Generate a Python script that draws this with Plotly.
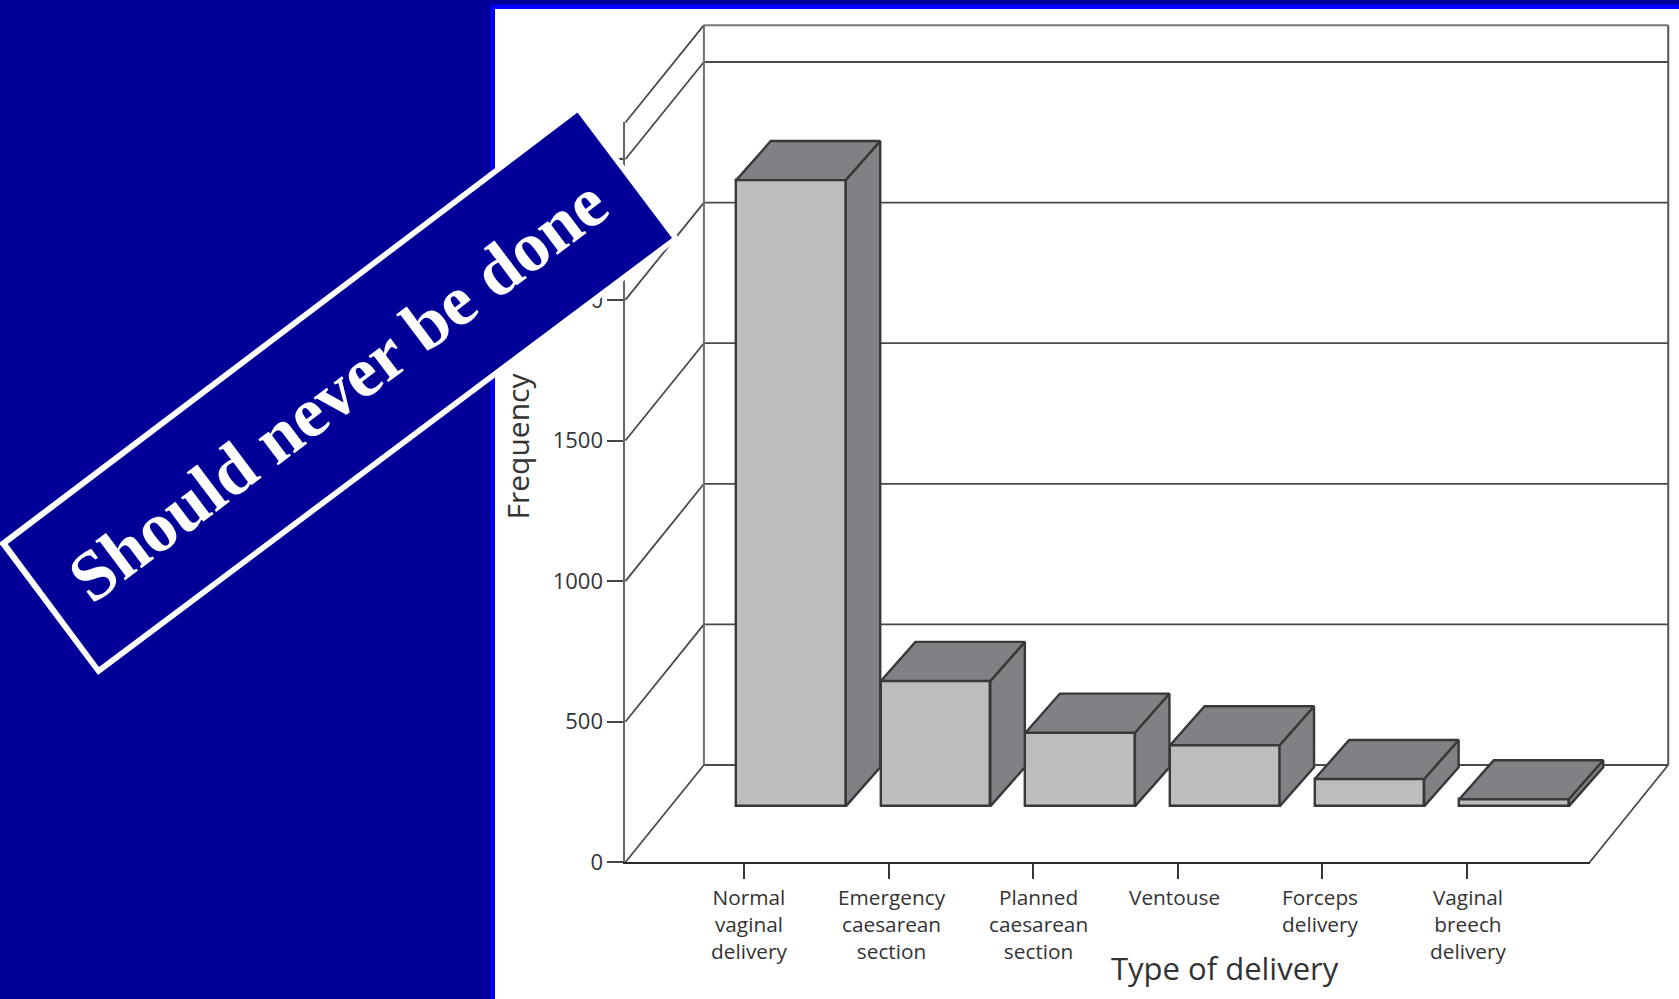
import plotly.graph_objects as go

# Delivery counts by type
categories = ["Normal<br>vaginal<br>delivery", "Emergency<br>caesarean<br>section",
              "Planned<br>caesarean<br>section", "Ventouse",
              "Forceps<br>delivery", "Vaginal<br>breech<br>delivery"]
frequency = [2227, 446, 262, 217, 97, 25]
freq_ticks = [0, 500, 1000, 1500, 2000, 2500]
label_nudge = [5, 3, 5, -3, -2, 1]

WIDTH, HEIGHT = 1679, 999
FONT = "Open Sans"
INK = "#333333"

# Page-to-data scale: one category step and the frequency scale in pixels
STEP_PX = 144.6
UNIT_PX = 0.2812
X0_PX, Y0_PX = 744.0, 862.3
AXIS_LEFT_PX, AXIS_RIGHT_PX = 625.4, 1589.7
WALL_TOP = 2631

# Perspective offsets of the chart box and of each bar (x in category steps, y in frequency)
BOX_DX, BOX_DY = 0.543, 346
BAR_DX, BAR_DY = 0.2386, 139
BAR_BASE = 199
BAR_SHIFT = 0.325
BAR_WIDTH = 0.757

NAVY = "#000099"
BLUE = "#0000FF"
FRONT = "#BCBDBF"
SHADE = "#808184"
EDGE = "#383838"


def px(x):
    return x / WIDTH


def py(y):
    return 1 - y / HEIGHT


def dx(x_px):
    return (x_px - X0_PX) / STEP_PX


def polygon(points):
    return "M " + " L ".join(f"{px(x):.5f} {py(y):.5f}" for x, y in points) + " Z"


left, right = dx(AXIS_LEFT_PX), dx(AXIS_RIGHT_PX)
shapes = [
    # Slide panel with its bright frame
    dict(type="rect", xref="paper", yref="paper", layer="below", line_width=0, fillcolor=BLUE,
         x0=px(490.5), x1=1, y0=0, y1=py(4.5)),
    dict(type="rect", xref="paper", yref="paper", layer="below", line_width=0, fillcolor="white",
         x0=px(495), x1=1, y0=0, y1=py(9)),
]


def wall_line(x0, y0, x1, y1, color="#4a4a4a", width=1.8):
    shapes.append(dict(type="line", xref="x", yref="y", layer="below", x0=x0, y0=y0, x1=x1, y1=y1,
                       line=dict(color=color, width=width)))


# Back wall gridlines and the receding lines on the side wall
for tick in freq_ticks:
    wall_line(left + BOX_DX, tick + BOX_DY, right + BOX_DX, tick + BOX_DY)
    wall_line(left, tick, left + BOX_DX, tick + BOX_DY)
wall_line(left + BOX_DX, WALL_TOP + BOX_DY, right + BOX_DX, WALL_TOP + BOX_DY, "#777777", 2)
wall_line(left, WALL_TOP, left + BOX_DX, WALL_TOP + BOX_DY)
wall_line(left + BOX_DX, BOX_DY, left + BOX_DX, WALL_TOP + BOX_DY, "#707070", 2)
wall_line(right + BOX_DX, BOX_DY, right + BOX_DX, WALL_TOP + BOX_DY, "#555555", 2)
wall_line(right, 0, right + BOX_DX, BOX_DY)

# Banner laid across the chart: white outline, navy body
shapes += [
    dict(type="path", xref="paper", yref="paper", layer="above", line_width=0, fillcolor="white",
         path=polygon([(-1, 543), (578.6, 105), (679.7, 239), (98, 675)])),
    dict(type="path", xref="paper", yref="paper", layer="above", line_width=0, fillcolor=NAVY,
         path=polygon([(7.7, 544), (577.5, 112.6), (672, 238), (99, 667)])),
]

positions = [i + BAR_SHIFT for i in range(len(frequency))]

# Top and side faces of the boxes, derived from each bar's value
top_x, top_y, side_x, side_y = [], [], [], []
half = BAR_WIDTH / 2
for pos, value in zip(positions, frequency):
    t = BAR_BASE + value
    top_x += [pos - half, pos - half + BAR_DX, pos + half + BAR_DX, pos + half, pos - half, None]
    top_y += [t, t + BAR_DY, t + BAR_DY, t, t, None]
    side_x += [pos + half, pos + half + BAR_DX, pos + half + BAR_DX, pos + half, pos + half, None]
    side_y += [t, t + BAR_DY, BAR_BASE + BAR_DY, BAR_BASE, t, None]

fig = go.Figure()
fig.add_trace(go.Bar(x=positions, y=frequency, base=BAR_BASE, width=BAR_WIDTH,
                     marker=dict(color=FRONT, line=dict(color=EDGE, width=2.4)),
                     hoverinfo="y", showlegend=False))
for xs, ys in ((side_x, side_y), (top_x, top_y)):
    fig.add_trace(go.Scatter(x=xs, y=ys, mode="lines", fill="toself", fillcolor=SHADE,
                             line=dict(color=EDGE, width=2.4), hoverinfo="skip", showlegend=False))
# Carries the visible axes drawn along the front of the box
fig.add_trace(go.Scatter(x=[0], y=[0], xaxis="x2", yaxis="y2", mode="markers",
                         marker=dict(opacity=0), hoverinfo="skip", showlegend=False))

annotations = [
    dict(xref="x2", yref="paper", x=i, y=py(881), xshift=nudge, text=text, showarrow=False,
         xanchor="center", yanchor="top", align="center", font=dict(family=FONT, size=20.8, color=INK))
    for i, (text, nudge) in enumerate(zip(categories, label_nudge))
]
annotations += [
    dict(xref="paper", yref="paper", x=px(1225), y=py(968), xanchor="center", yanchor="middle",
         text="Type of delivery", showarrow=False, font=dict(family=FONT, size=31, color=INK)),
    dict(xref="paper", yref="paper", x=px(517.5), y=py(446), xanchor="center", yanchor="middle",
         text="Frequency", showarrow=False, textangle=-90, font=dict(family=FONT, size=30, color=INK)),
    dict(xref="paper", yref="paper", x=px(338), y=py(390), xanchor="center", yanchor="middle",
         text="Should never be done", showarrow=False, textangle=-37,
         font=dict(family="Liberation Serif", size=71, color="white", weight="bold")),
]

fig.update_layout(
    width=WIDTH, height=HEIGHT, margin=dict(l=0, r=0, t=0, b=0, autoexpand=False),
    paper_bgcolor=NAVY, plot_bgcolor="rgba(0,0,0,0)", showlegend=False, bargap=0,
    shapes=shapes, annotations=annotations,
    xaxis=dict(domain=[0, 1], range=[dx(0), dx(WIDTH)], visible=False, fixedrange=True),
    yaxis=dict(domain=[0, 1], range=[(Y0_PX - HEIGHT) / UNIT_PX, Y0_PX / UNIT_PX], visible=False, fixedrange=True),
    xaxis2=dict(domain=[px(AXIS_LEFT_PX), px(AXIS_RIGHT_PX)], range=[left, right], anchor="y2",
                tickmode="array", tickvals=list(range(len(frequency))), showticklabels=False,
                ticks="outside", ticklen=15, tickwidth=2, tickcolor=EDGE,
                showline=True, linecolor="#2a2a2a", linewidth=2.2, showgrid=False, zeroline=False, fixedrange=True),
    yaxis2=dict(domain=[py(Y0_PX), py(Y0_PX - WALL_TOP * UNIT_PX)], range=[0, WALL_TOP], anchor="x2",
                tickmode="array", tickvals=freq_ticks, ticks="outside", ticklen=16, tickwidth=1.8, tickcolor="#444444",
                tickfont=dict(family=FONT, size=22, color=INK),
                showline=True, linecolor="#666666", linewidth=2, showgrid=False, zeroline=False, fixedrange=True),
)

fig.write_html("out.html")
